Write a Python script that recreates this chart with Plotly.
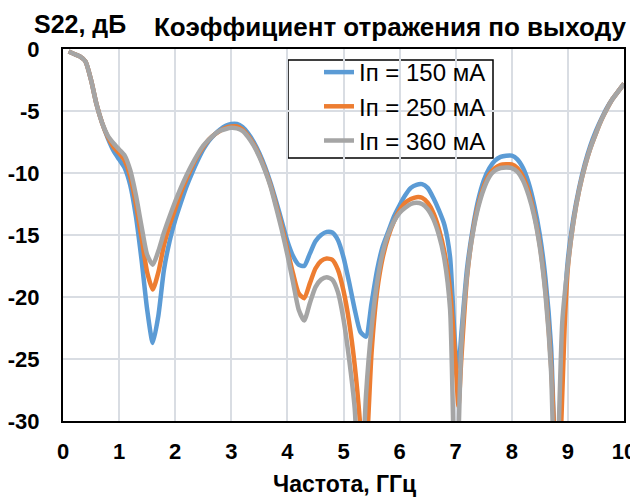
import plotly.graph_objects as go

# Frequency grid, GHz
freq_150 = [0.1,0.2,0.3,0.4,0.5,0.6,0.7,0.8,0.9,1.0,1.1,1.2,1.3,1.4,1.5,1.6,1.7,1.8,1.9,2.0,
            2.1,2.2,2.3,2.4,2.5,2.6,2.7,2.8,2.9,3.0,3.1,3.2,3.3,3.4,3.5,3.6,3.7,3.8,3.9,4.0,
            4.1,4.2,4.3,4.4,4.5,4.6,4.7,4.8,4.9,5.0,5.1,5.2,5.3,5.4,5.5,5.6,5.7,5.8,5.9,6.0,
            6.1,6.2,6.3,6.4,6.5,6.6,6.7,6.8,6.9,7.0,7.05,7.1,7.2,7.3,7.4,7.5,7.6,7.7,7.8,7.9,
            8.0,8.1,8.2,8.3,8.4,8.5,8.6,8.7,8.8,8.9,9.0,9.1,9.2,9.3,9.4,9.5,9.6,9.7,9.8,9.9,10.0]
s22_150 = [-0.2,-0.4,-0.6,-1.0,-2.5,-4.5,-6.0,-7.2,-8.2,-8.9,-9.6,-11.0,-13.5,-17.0,-21.0,-23.7,-21.5,-17.8,-15.5,-13.8,
           -12.4,-11.1,-10.0,-9.0,-8.1,-7.4,-6.9,-6.5,-6.2,-6.05,-6.05,-6.3,-6.8,-7.5,-8.4,-9.5,-10.8,-12.3,-13.9,-15.5,
           -16.7,-17.4,-17.5,-16.5,-15.5,-15.0,-14.75,-14.8,-15.4,-16.8,-18.8,-21.0,-22.8,-23.2,-20.5,-17.8,-15.9,-14.7,-13.5,-12.6,
           -11.8,-11.2,-10.95,-10.9,-11.2,-12.0,-13.0,-14.2,-16.8,-24.5,-25.6,-23.0,-17.8,-14.6,-12.2,-10.6,-9.6,-9.0,-8.7,-8.6,
           -8.6,-8.9,-9.6,-10.8,-12.6,-15.0,-18.5,-24.0,-36.0,-24.0,-17.0,-13.6,-11.2,-9.3,-7.8,-6.6,-5.6,-4.7,-4.0,-3.4,-2.8]

freq_250 = [0.1,0.2,0.3,0.4,0.5,0.6,0.7,0.8,0.9,1.0,1.1,1.2,1.3,1.4,1.5,1.6,1.7,1.8,1.9,2.0,
            2.1,2.2,2.3,2.4,2.5,2.6,2.7,2.8,2.9,3.0,3.1,3.2,3.3,3.4,3.5,3.6,3.7,3.8,3.9,4.0,
            4.1,4.2,4.3,4.4,4.5,4.6,4.7,4.8,4.9,5.0,5.1,5.2,5.3,5.37,5.45,5.5,5.6,5.7,5.8,5.9,6.0,
            6.1,6.2,6.3,6.4,6.5,6.6,6.7,6.8,6.9,7.0,7.05,7.1,7.2,7.3,7.4,7.5,7.6,7.7,7.8,7.9,
            8.0,8.1,8.2,8.3,8.4,8.5,8.6,8.7,8.82,8.95,9.0,9.1,9.2,9.3,9.4,9.5,9.6,9.7,9.8,9.9,10.0]
s22_250 = [-0.2,-0.4,-0.6,-1.0,-2.5,-4.5,-6.0,-7.1,-7.9,-8.4,-9.0,-10.3,-12.5,-15.2,-18.0,-19.4,-18.0,-15.8,-14.2,-12.9,
           -11.6,-10.5,-9.5,-8.6,-7.9,-7.3,-6.9,-6.6,-6.35,-6.25,-6.25,-6.5,-7.0,-7.7,-8.6,-9.7,-11.0,-12.6,-14.3,-16.2,
           -18.1,-19.7,-20.1,-18.9,-17.7,-17.1,-16.9,-17.0,-17.8,-19.5,-22.0,-25.5,-30.5,-36.0,-29.0,-24.5,-19.5,-16.8,-15.1,-13.9,-13.0,
           -12.4,-12.1,-11.95,-12.0,-12.4,-13.2,-14.5,-16.4,-19.5,-25.5,-28.8,-25.0,-18.5,-14.9,-12.6,-11.1,-10.1,-9.6,-9.35,-9.3,
           -9.3,-9.6,-10.3,-11.5,-13.3,-15.8,-19.5,-25.5,-36.0,-21.5,-17.6,-13.9,-11.4,-9.5,-8.0,-6.8,-5.7,-4.8,-4.0,-3.4,-2.8]

freq_360 = [0.1,0.2,0.3,0.4,0.5,0.6,0.7,0.8,0.9,1.0,1.1,1.2,1.3,1.4,1.5,1.6,1.7,1.8,1.9,2.0,
            2.1,2.2,2.3,2.4,2.5,2.6,2.7,2.8,2.9,3.0,3.1,3.2,3.3,3.4,3.5,3.6,3.7,3.8,3.9,4.0,
            4.1,4.2,4.3,4.4,4.5,4.6,4.7,4.8,4.9,5.0,5.1,5.2,5.3,5.4,5.5,5.6,5.7,5.8,5.9,6.0,
            6.1,6.2,6.3,6.4,6.5,6.6,6.7,6.8,6.9,7.0,7.1,7.2,7.3,7.4,7.5,7.6,7.7,7.8,7.9,
            8.0,8.1,8.2,8.3,8.4,8.5,8.6,8.7,8.78,8.9,9.0,9.1,9.2,9.3,9.4,9.5,9.6,9.7,9.8,9.9,10.0]
s22_360 = [-0.2,-0.4,-0.6,-1.0,-2.5,-4.5,-6.0,-7.0,-7.6,-8.1,-8.6,-9.8,-11.8,-14.3,-16.6,-17.4,-16.3,-14.8,-13.5,-12.3,
           -11.2,-10.2,-9.3,-8.5,-7.8,-7.3,-6.9,-6.6,-6.45,-6.35,-6.4,-6.6,-7.1,-7.8,-8.7,-9.8,-11.1,-12.8,-14.6,-16.6,
           -18.8,-21.0,-21.9,-20.5,-19.2,-18.6,-18.4,-18.6,-19.6,-21.8,-25.0,-29.0,-38.0,-28.0,-22.5,-18.8,-16.4,-14.9,-13.9,-13.2,
           -12.8,-12.5,-12.4,-12.5,-12.9,-13.7,-15.0,-17.0,-21.0,-38.0,-24.0,-18.3,-15.0,-12.8,-11.3,-10.3,-9.8,-9.6,-9.55,
           -9.6,-9.9,-10.6,-11.8,-13.5,-16.0,-19.8,-26.0,-38.0,-22.0,-17.4,-13.9,-11.4,-9.5,-8.0,-6.8,-5.7,-4.8,-4.0,-3.4,-2.8]

series_names = ["Iп = 150 мА", "Iп = 250 мА", "Iп = 360 мА"]
series_colors = ["#5B9BD5", "#ED7D31", "#A5A5A5"]
x_ticks = [0, 1, 2, 3, 4, 5, 6, 7, 8, 9, 10]
y_ticks = [0, -5, -10, -15, -20, -25, -30]

FONT = "Liberation Sans, Arial, sans-serif"

fig = go.Figure()
for fx, fy, name, col in zip([freq_150, freq_250, freq_360], [s22_150, s22_250, s22_360],
                             series_names, series_colors):
    fig.add_trace(go.Scatter(x=fx, y=fy, mode="lines", name=name,
                             line=dict(color=col, width=4.5, shape="spline", smoothing=0.6)))

# page has an 8px body margin: figure is drawn offset by OFF
OFF = 8
W, H = 630, 489
L, R, T, B = 55, 14, 41, 76
pw, ph = W - L - R, H - T - B

def px(xp):  # page pixel -> paper fraction
    return (xp - OFF - L) / pw

def py(yp):
    return (H - B - (yp - OFF)) / ph

fig.update_layout(
    width=W, height=H,
    margin=dict(l=L, r=R, t=T, b=B, autoexpand=False),
    paper_bgcolor="white", plot_bgcolor="white",
    font=dict(family=FONT, color="black", size=22),
    showlegend=True,
    legend=dict(x=px(319), y=py(50), xanchor="left", yanchor="top",
                bgcolor="rgba(0,0,0,0)", borderwidth=0,
                font=dict(family=FONT, size=24, color="black"),
                tracegroupgap=0),
    xaxis=dict(range=[0, 10], tickvals=x_ticks, ticktext=[str(v) for v in x_ticks],
               showgrid=True, gridcolor="#D9DDE3", gridwidth=1.5,
               showline=True, linecolor="black", linewidth=2, mirror=True,
               ticks="", ticklabelstandoff=10, zeroline=False, automargin=False,
               tickfont=dict(family=FONT, size=22, color="black", weight="bold")),
    yaxis=dict(range=[-30, 0], tickvals=y_ticks, ticktext=[str(v) for v in y_ticks],
               showgrid=True, gridcolor="#D9DDE3", gridwidth=1.5,
               showline=True, linecolor="black", linewidth=2, mirror=True,
               ticks="", ticklabelstandoff=17, zeroline=False, automargin=False,
               tickfont=dict(family=FONT, size=22, color="black", weight="bold")),
    shapes=[
        dict(type="rect", xref="paper", yref="paper", layer="between",
             x0=px(288), x1=px(493), y0=py(158), y1=py(60),
             fillcolor="white", line=dict(color="black", width=1.5)),
    ],
    annotations=[
        dict(text="S22, дБ", xref="paper", yref="paper", x=px(80), y=py(24),
             xanchor="center", yanchor="middle", showarrow=False,
             font=dict(family=FONT, size=25, color="black", weight="bold")),
        dict(text="Коэффициент отражения по выходу", xref="paper", yref="paper",
             x=px(390), y=py(27), xanchor="center", yanchor="middle", showarrow=False,
             font=dict(family=FONT, size=26, color="black", weight="bold")),
        dict(text="Частота, ГГц", xref="paper", yref="paper", x=px(344), y=py(484),
             xanchor="center", yanchor="middle", showarrow=False,
             font=dict(family=FONT, size=23, color="black", weight="bold")),
    ],
)

fig.write_html("out.html")
